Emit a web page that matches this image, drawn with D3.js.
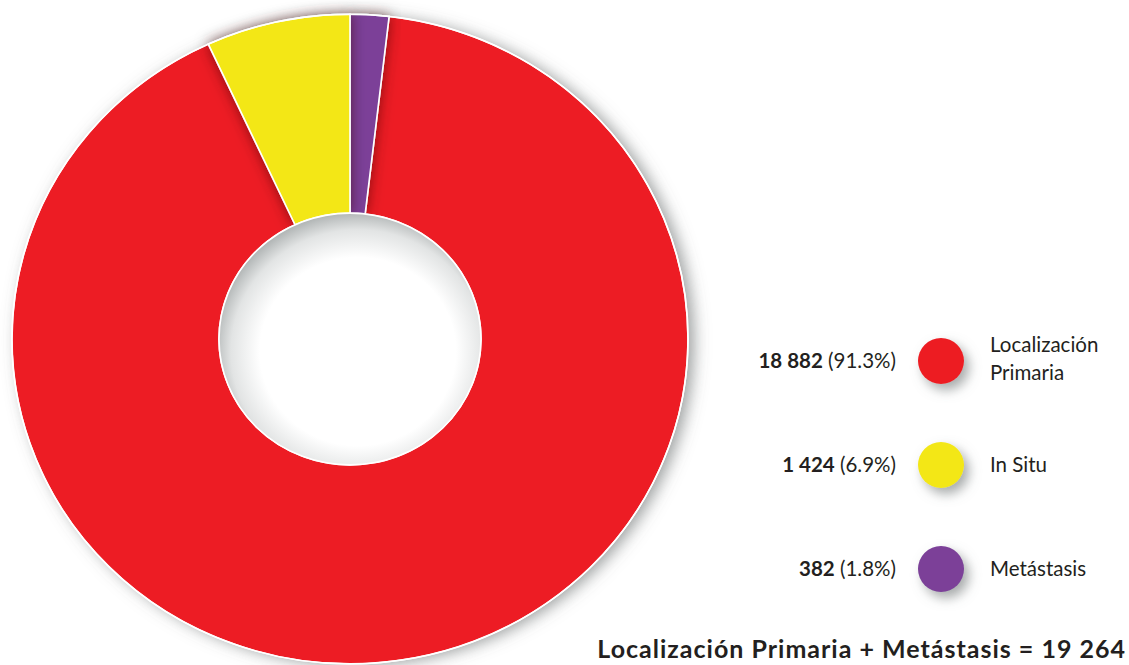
<!DOCTYPE html>
<html>
<head>
<meta charset="utf-8">
<script src="https://cdn.jsdelivr.net/npm/d3@7"></script>
<style>
  html, body { margin: 0; padding: 0; background: #ffffff; }
  svg { display: block; font-family: Lato, "Open Sans", sans-serif; }
</style>
</head>
<body>
<svg id="chart" width="1129" height="665"></svg>
<script>
// Cases by stage
const categories = ["Localización Primaria", "In Situ", "Metástasis"];
const legendLines = [["Localización", "Primaria"], ["In Situ"], ["Metástasis"]];
const values = [18882, 1424, 382];
const colors = ["#ED1C24", "#F3E712", "#7B3F98"];
// clockwise order of the ring, starting at 12 o'clock
const sliceOrder = ["Metástasis", "Localización Primaria", "In Situ"];
// slices painted in this order so each casts its shadow on the one beneath
const paintOrder = ["Localización Primaria", "Metástasis", "In Situ"];
const sumLabelParts = ["Localización Primaria", "Metástasis"];

const svg = d3.select("#chart");

const locale = d3.formatLocale({ decimal: ".", thousands: " ", grouping: [3], currency: ["", ""] });
const fmtInt = locale.format(",d");
const total = d3.sum(values);
const pct = v => (v / total * 100).toFixed(1) + "%";

const defs = svg.append("defs");

const ringShadow = defs.append("filter").attr("id", "ringShadow")
  .attr("x", "-10%").attr("y", "-10%").attr("width", "120%").attr("height", "120%");
ringShadow.append("feDropShadow").attr("dx", 6).attr("dy", 2)
  .attr("stdDeviation", 8).attr("flood-color", "#5a6060").attr("flood-opacity", 0.6);

const sliceShadow = defs.append("filter").attr("id", "sliceShadow")
  .attr("x", "-30%").attr("y", "-30%").attr("width", "160%").attr("height", "160%");
sliceShadow.append("feDropShadow").attr("dx", 0).attr("dy", 0)
  .attr("stdDeviation", 7).attr("flood-color", "#3a1010").attr("flood-opacity", 0.6);

const dotShadow = defs.append("filter").attr("id", "dotShadow")
  .attr("x", "-80%").attr("y", "-80%").attr("width", "260%").attr("height", "260%");
dotShadow.append("feDropShadow").attr("dx", 5).attr("dy", 6)
  .attr("stdDeviation", 6).attr("flood-color", "#6d7272").attr("flood-opacity", 0.6);

const holeGrad = defs.append("radialGradient").attr("id", "holeGrad")
  .attr("cx", "53%").attr("cy", "55%").attr("r", "55%");
holeGrad.append("stop").attr("offset", "0%").attr("stop-color", "#ffffff");
holeGrad.append("stop").attr("offset", "68%").attr("stop-color", "#ffffff");
holeGrad.append("stop").attr("offset", "88%").attr("stop-color", "#e2e4e4");
holeGrad.append("stop").attr("offset", "100%").attr("stop-color", "#b4b8b8");

// ---- donut ----
const cx = 350, cy = 339, R = 338, r = 131, squash = 0.961;
const color = d3.scaleOrdinal().domain(categories).range(colors);

const rows = sliceOrder.map(name => ({ name, value: values[categories.indexOf(name)] }));
const pie = d3.pie().sort(null).value(d => d.value);
const arcs = pie(rows);
const arc = d3.arc().innerRadius(r).outerRadius(R);

const ring = svg.append("g")
  .attr("transform", `translate(${cx},${cy}) scale(1,${squash})`);

// whole-ring backdrop carrying the outer drop shadow
ring.append("circle").attr("r", R).attr("fill", color("Localización Primaria"))
  .attr("filter", "url(#ringShadow)");

const sliceG = ring.append("g");
paintOrder.forEach(name => {
  const a = arcs.find(d => d.data.name === name);
  sliceG.append("path")
    .attr("d", arc(a))
    .attr("fill", color(name))
    .attr("stroke", "#ffffff")
    .attr("stroke-width", 1.6)
    .attr("stroke-linejoin", "round")
    .attr("filter", name === "Localización Primaria" ? null : "url(#sliceShadow)");
});

// outer rim and hole with inner shading
ring.append("circle").attr("r", R).attr("fill", "none")
  .attr("stroke", "#ffffff").attr("stroke-width", 1.6);
ring.append("circle").attr("r", r).attr("fill", "url(#holeGrad)")
  .attr("stroke", "#ffffff").attr("stroke-width", 1.6);

// ---- legend ----
const legendY = d3.scalePoint().domain(categories).range([361, 569]);
const dotX = 941, dotR = 23, textX = 990, valueX = 896;

const leg = svg.append("g").attr("fill", "#231F20").style("font-size", "20.5px");
categories.forEach((name, i) => {
  const y = legendY(name);
  leg.append("circle").attr("cx", dotX).attr("cy", y).attr("r", dotR)
    .attr("fill", color(name)).attr("filter", "url(#dotShadow)");

  const v = leg.append("text").attr("x", valueX).attr("y", y + 7)
    .attr("text-anchor", "end");
  v.append("tspan").attr("font-weight", 700).text(fmtInt(values[i]));
  v.append("tspan").text(" (" + pct(values[i]) + ")");

  const lines = legendLines[i];
  const lh = 28;
  const t = leg.append("text").attr("x", textX)
    .attr("y", y + 7 - (lines.length - 1) * lh / 2 - 2 * (lines.length - 1));
  lines.forEach((ln, k) => {
    t.append("tspan").attr("x", textX).attr("dy", k === 0 ? 0 : lh).text(ln);
  });
});

// ---- sum note ----
const sumValue = d3.sum(sumLabelParts, n => values[categories.indexOf(n)]);
svg.append("text")
  .attr("x", 1126).attr("y", 658)
  .attr("text-anchor", "end")
  .attr("fill", "#231F20")
  .attr("font-weight", 700)
  .style("font-size", "25px")
  .style("letter-spacing", "1px")
  .text(sumLabelParts.join(" + ") + " =  " + fmtInt(sumValue));
</script>
</body>
</html>
